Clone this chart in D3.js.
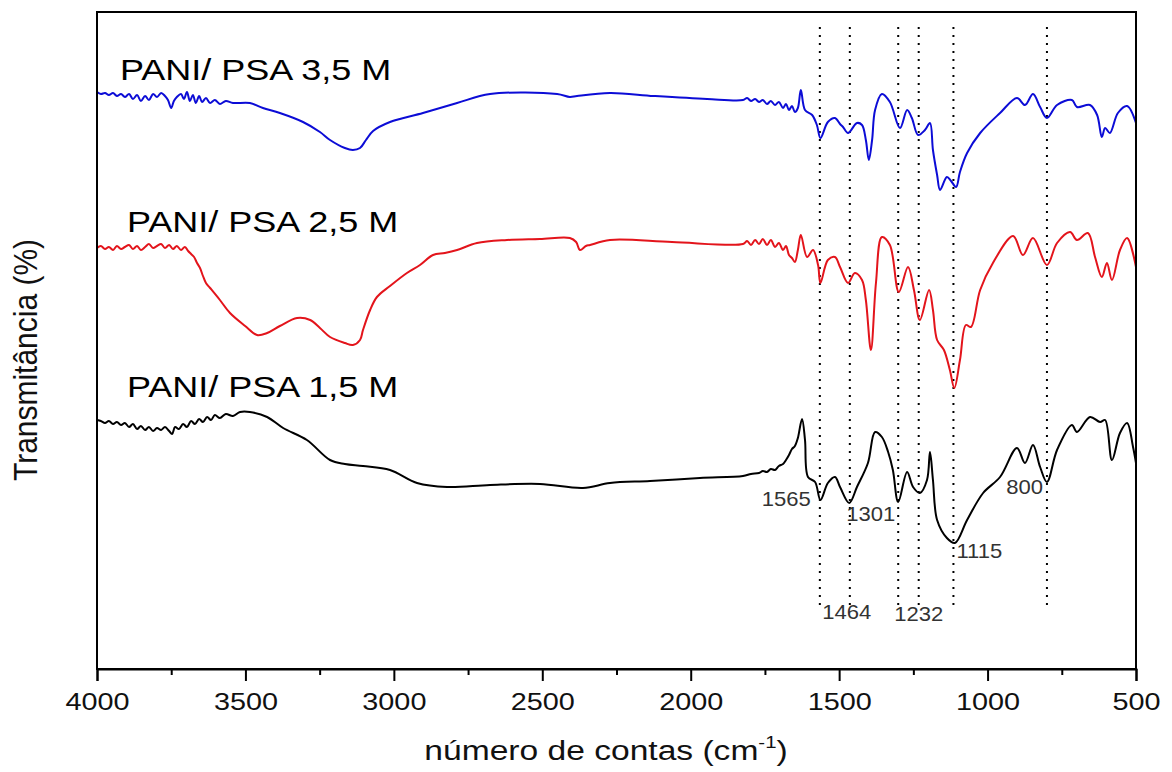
<!DOCTYPE html>
<html>
<head>
<meta charset="utf-8">
<script src="https://cdn.jsdelivr.net/npm/d3@7"></script>
<style>
  html, body { margin: 0; padding: 0; background: #fff; }
  svg { display: block; }
</style>
</head>
<body>
<div id="chart"></div>
<script>
'use strict';

// wavenumbers (cm-1) and transmittance (a.u.)
var wn35 = [4000,3987,3973,3960,3946,3933,3919,3906,3892,3879,3865,3852,3838,3825,3811,3798,3784,3771,3761,3750,
  3741,3731,3717,3707,3697,3687,3677,3667,3656,3646,3633,3619,3603,3586,3566,3542,
  3485,3441,3384,3306,3249,3215,3165,3138,3114,3094,3070,3013,2902,2787,2676,2450,2407,2383,2272,2124,1945,
  1824,1810,1797,1783,1770,1757,1743,1730,1716,1703,1689,1679,1669,1659,1649,1639,1629,
  1615,1591,1575,1563,1538,1514,1497,1487,1470,1440,1423,1410,1400,1389,1379,1356,1329,1295,1271,1255,
  1234,1211,1194,1184,1170,1160,1137,1123,1106,1093,1069,1025,958,901,874,847,823,800,766,716,
  699,655,631,615,604,588,561,530,500];
var t35 = [577,575,576,574,576,573,575,572,575,570,574,568,573,569,575,572,576,573,569,561,
  568,572,575,570,577,568,574,566,573,567,571,566,569,565,568,566,
  566,561,556,547,537,529,521,519,521,529,538,547,556,566,575,575,572,573,576,573,570,
  569,571,568,570,567,569,565,568,564,567,561,565,559,563,557,561,579,
  559,554,544,531,547,551,545,542,536,546,544,529,509,529,559,575,567,541,559,551,
  534,539,546,519,494,479,492,488,482,497,516,536,556,571,564,575,562,551,564,569,
  562,564,554,532,541,536,556,563,546];

var wn25 = [4000,3987,3973,3960,3946,3933,3919,3906,3892,3879,3865,3852,3838,3825,3811,3798,3784,3771,3757,3744,
  3731,3717,3704,3693,3683,3673,3663,3653,3643,3633,3619,
  3586,3552,3501,3461,3427,3384,3326,3282,3249,3215,3165,3138,3114,3104,3080,3057,3013,2956,2912,2868,
  2828,2787,2720,2619,2508,2407,2386,2373,2353,2339,2272,2063,
  1824,1810,1797,1783,1770,1757,1743,1730,1716,1703,1689,1679,1669,1659,1649,1639,1629,
  1608,1588,1571,1563,1538,1514,1497,1470,1447,1423,1410,1393,1376,1356,1329,1299,1268,1248,1228,1197,
  1184,1170,1147,1127,1112,1093,1073,1056,1025,982,914,881,847,800,766,722,699,662,638,615,
  598,581,554,530,500];
var t25 = [421,423,420,422,419,423,420,422,424,420,423,419,422,425,421,423,425,421,424,420,
  423,419,422,418,415,412,406,401,393,386,381,
  369,356,343,334,336,343,351,349,341,332,326,324,329,339,359,372,383,396,404,414,
  416,419,426,429,430,431,427,419,423,424,429,427,
  425,428,424,429,425,430,424,429,422,426,419,423,414,411,407,419,434,
  412,419,404,386,409,412,402,386,396,389,369,319,386,432,424,377,402,379,349,379,
  359,329,319,299,281,309,344,342,379,406,433,414,431,404,426,437,429,436,412,392,
  406,389,419,431,402];

var wn15 = [4000,3987,3973,3960,3946,3933,3919,3906,3892,3879,3865,3852,3838,3825,3811,3798,3784,3771,3757,3747,
  3737,3724,3710,3697,3683,3670,3656,3643,3629,3616,3603,3586,3566,3542,3518,3485,
  3427,3373,3293,3215,3165,3104,3013,2922,2821,2676,2508,2363,2272,2137,1969,
  1824,1797,1770,1757,1743,1730,1716,1703,1689,1679,1669,1659,1649,1639,1625,
  1615,1605,1581,1563,1538,1514,1497,1466,1440,1403,1379,1356,1335,1319,1301,1271,1251,1228,1204,1194,
  1184,1170,1137,1110,1069,1015,958,901,874,847,823,800,766,716,699,655,621,604,581,554,
  530,510,500];
var t15 = [249,248,246,248,245,247,244,246,242,245,240,243,239,242,238,241,239,242,238,235,
  242,240,245,242,248,245,250,247,252,249,254,251,255,253,257,257,
  252,241,229,209,205,203,199,186,182,184,185,181,186,188,191,
  193,195,196,198,197,200,199,203,205,209,214,220,223,231,250,
  229,192,187,169,186,192,182,166,182,206,237,232,217,199,167,197,182,176,189,217,
  189,149,131,126,149,176,192,221,206,224,202,187,219,244,237,252,247,249,209,236,
  246,222,206];

var seriesNames = ['PANI/ PSA 3,5 M', 'PANI/ PSA 2,5 M', 'PANI/ PSA 1,5 M'];
var seriesColors = ['#0c0cd6', '#e3141b', '#000000'];
var peaks = [1565, 1464, 1301, 1232, 1115, 800];
var xTicks = [4000, 3500, 3000, 2500, 2000, 1500, 1000, 500];
var xMinorTicks = [3750, 3250, 2750, 2250, 1750, 1250, 750];

var W = 1172, H = 772;
var plotLeft = 97, plotRight = 1136, plotTop = 12, plotBottom = 669;
var FONT = '"Liberation Sans", Arial, Helvetica, sans-serif';
var SX = 1.2; // the source figure is stretched horizontally

var x = d3.scaleLinear().domain([4000, 500]).range([plotLeft, plotRight]);
var y = d3.scaleLinear().domain([0, 657]).range([plotBottom, plotTop]);

var svg = d3.select('#chart').append('svg')
    .attr('width', W)
    .attr('height', H)
    .style('font-family', FONT);

svg.append('rect')
    .attr('width', W).attr('height', H)
    .attr('fill', '#fff');

// dotted marker lines
svg.append('g').selectAll('line')
    .data(peaks)
  .enter().append('line')
    .attr('x1', function(d) { return x(d); })
    .attr('x2', function(d) { return x(d); })
    .attr('y1', y(642))
    .attr('y2', y(64))
    .attr('stroke', '#000')
    .attr('stroke-width', 2)
    .attr('stroke-dasharray', '2,6');

// spectra
var line = d3.line()
    .x(function(d) { return x(d[0]); })
    .y(function(d) { return y(d[1]); })
    .curve(d3.curveCatmullRom.alpha(0.5));

var spectra = [d3.zip(wn35, t35), d3.zip(wn25, t25), d3.zip(wn15, t15)];

svg.append('g').selectAll('path')
    .data(spectra)
  .enter().append('path')
    .attr('d', line)
    .attr('fill', 'none')
    .attr('stroke', function(d, i) { return seriesColors[i]; })
    .attr('stroke-width', 2)
    .attr('stroke-linejoin', 'round');

// frame
svg.append('rect')
    .attr('x', plotLeft).attr('y', plotTop)
    .attr('width', plotRight - plotLeft).attr('height', plotBottom - plotTop)
    .attr('fill', 'none')
    .attr('stroke', '#000')
    .attr('stroke-width', 2);

// x axis
var xAxis = svg.append('g')
    .attr('transform', 'translate(0,' + plotBottom + ')')
    .call(d3.axisBottom(x).tickValues(xTicks).tickSize(12).tickPadding(12)
        .tickFormat(d3.format('d')));
xAxis.select('.domain').attr('stroke-width', 2);
xAxis.selectAll('.tick line').attr('stroke-width', 2);
xAxis.selectAll('.tick text')
    .attr('font-size', 24)
    .attr('font-family', FONT)
    .attr('fill', '#111')
    .attr('transform', 'scale(' + SX + ',1)');

var xMinor = svg.append('g')
    .attr('transform', 'translate(0,' + plotBottom + ')')
    .call(d3.axisBottom(x).tickValues(xMinorTicks).tickSize(6).tickFormat(''));
xMinor.select('.domain').remove();
xMinor.selectAll('.tick line').attr('stroke-width', 2);

// axis titles
var xTitle = svg.append('text')
    .attr('transform', 'translate(606,760) scale(' + SX + ',1)')
    .attr('text-anchor', 'middle')
    .attr('font-size', 28)
    .attr('fill', '#111');
xTitle.append('tspan').text('número de contas (cm');
xTitle.append('tspan').attr('font-size', 17).attr('dy', -12).text('-1');
xTitle.append('tspan').attr('dy', 12).text(')');

svg.append('text')
    .attr('transform', 'translate(37,360) scale(1.1,1) rotate(-90)')
    .attr('text-anchor', 'middle')
    .attr('font-size', 30)
    .attr('fill', '#111')
    .text('Transmitância (%)');

// series labels
var labelPos = [[120, 80], [127, 232], [127, 397]];
svg.append('g').selectAll('text')
    .data(seriesNames)
  .enter().append('text')
    .attr('transform', function(d, i) {
        return 'translate(' + labelPos[i][0] + ',' + labelPos[i][1] + ') scale(' + SX + ',1)';
    })
    .attr('font-size', 30)
    .attr('fill', '#000')
    .text(function(d) { return d; });

// peak labels: [dx from marker line, y value, anchor]
var peakLabelLayout = {
    1565: [-9, 163, 'end'],
    1464: [-3, 50, 'middle'],
    1301: [-3, 148, 'end'],
    1232: [0, 48, 'middle'],
    1115: [3, 111, 'start'],
    800: [-4, 175, 'end']
};
svg.append('g').selectAll('text')
    .data(peaks)
  .enter().append('text')
    .attr('transform', function(d) {
        var p = peakLabelLayout[d];
        return 'translate(' + (x(d) + p[0]) + ',' + y(p[1]) + ') scale(1.05,1)';
    })
    .attr('text-anchor', function(d) { return peakLabelLayout[d][2]; })
    .attr('font-size', 21)
    .attr('fill', '#333')
    .text(function(d) { return d; });
</script>
</body>
</html>
